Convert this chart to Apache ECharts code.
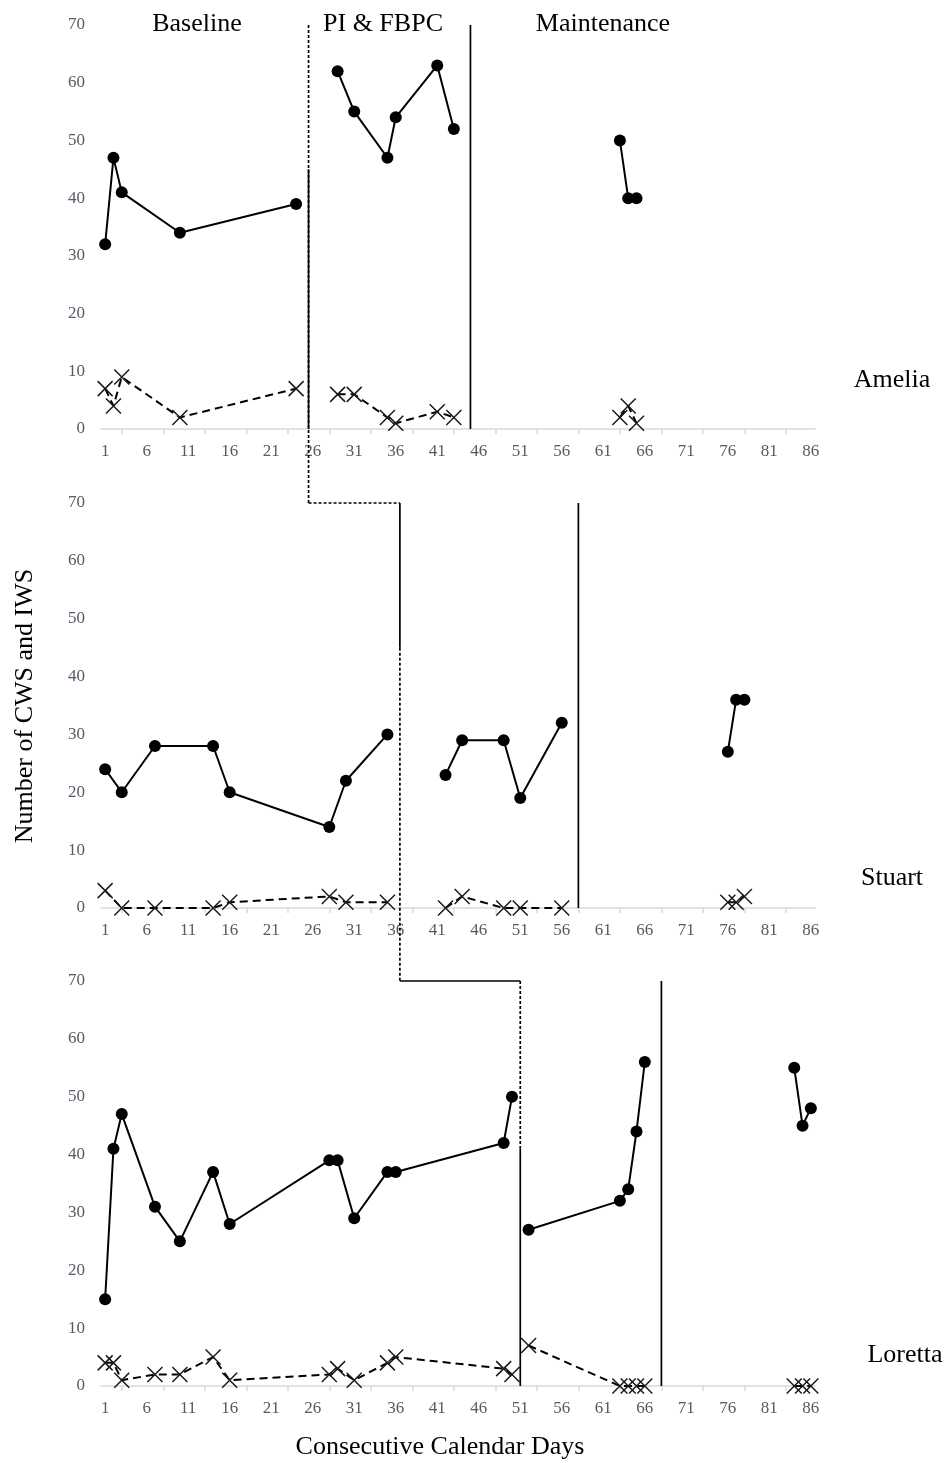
<!DOCTYPE html>
<html>
<head>
<meta charset="utf-8">
<script src="https://cdn.jsdelivr.net/npm/echarts@6/dist/echarts.min.js"></script>
<style>
html,body{margin:0;padding:0;background:#fff;}
#chart{width:944px;height:1463px;}
</style>
</head>
<body>
<div id="chart"></div>
<script>
// ---------- data ----------
const dayCategories = ['1','2','3','4','5','6','7','8','9','10','11','12','13','14','15','16','17','18','19','20',
  '21','22','23','24','25','26','27','28','29','30','31','32','33','34','35','36','37','38','39','40',
  '41','42','43','44','45','46','47','48','49','50','51','52','53','54','55','56','57','58','59','60',
  '61','62','63','64','65','66','67','68','69','70','71','72','73','74','75','76','77','78','79','80',
  '81','82','83','84','85','86'];
const participants = ['Amelia', 'Stuart', 'Loretta'];
const phaseTitles = ['Baseline', 'PI & FBPC', 'Maintenance'];

// Amelia
const ameliaBaselineDays = [1, 2, 3, 10, 24];
const ameliaBaselineCWS = [32, 47, 41, 34, 39];
const ameliaBaselineIWS = [7, 4, 9, 2, 7];
const ameliaInterventionDays = [29, 31, 35, 36, 41, 43];
const ameliaInterventionCWS = [62, 55, 47, 54, 63, 52];
const ameliaInterventionIWS = [6, 6, 2, 1, 3, 2];
const ameliaMaintenanceDays = [63, 64, 65];
const ameliaMaintenanceCWS = [50, 40, 40];
const ameliaMaintenanceIWS = [2, 4, 1];

// Stuart
const stuartBaselineDays = [1, 3, 7, 14, 16, 28, 30, 35];
const stuartBaselineCWS = [24, 20, 28, 28, 20, 14, 22, 30];
const stuartBaselineIWS = [3, 0, 0, 0, 1, 2, 1, 1];
const stuartInterventionDays = [42, 44, 49, 51, 56];
const stuartInterventionCWS = [23, 29, 29, 19, 32];
const stuartInterventionIWS = [0, 2, 0, 0, 0];
const stuartMaintenanceDays = [76, 77, 78];
const stuartMaintenanceCWS = [27, 36, 36];
const stuartMaintenanceIWS = [1, 1, 2];

// Loretta
const lorettaBaselineDays = [1, 2, 3, 7, 10, 14, 16, 28, 29, 31, 35, 36, 49, 50];
const lorettaBaselineCWS = [15, 41, 47, 31, 25, 37, 28, 39, 39, 29, 37, 37, 42, 50];
const lorettaBaselineIWS = [4, 4, 1, 2, 2, 5, 1, 2, 3, 1, 4, 5, 3, 2];
const lorettaInterventionDays = [52, 63, 64, 65, 66];
const lorettaInterventionCWS = [27, 32, 34, 44, 56];
const lorettaInterventionIWS = [7, 0, 0, 0, 0];
const lorettaMaintenanceDays = [84, 85, 86];
const lorettaMaintenanceCWS = [55, 45, 48];
const lorettaMaintenanceIWS = [0, 0, 0];

// phase-change lines (day positions)
const ameliaPhaseLines = [25.5, 45];
const stuartPhaseLines = [36.5, 58];
const lorettaPhaseLines = [51, 68];
// y value where solid/dashed parts of the staircase switch
const staircaseBreakValues = [45, 45, 41];

// ---------- assembly ----------
const panels = [
  {phases: [[ameliaBaselineDays, ameliaBaselineCWS, ameliaBaselineIWS],
            [ameliaInterventionDays, ameliaInterventionCWS, ameliaInterventionIWS],
            [ameliaMaintenanceDays, ameliaMaintenanceCWS, ameliaMaintenanceIWS]]},
  {phases: [[stuartBaselineDays, stuartBaselineCWS, stuartBaselineIWS],
            [stuartInterventionDays, stuartInterventionCWS, stuartInterventionIWS],
            [stuartMaintenanceDays, stuartMaintenanceCWS, stuartMaintenanceIWS]]},
  {phases: [[lorettaBaselineDays, lorettaBaselineCWS, lorettaBaselineIWS],
            [lorettaInterventionDays, lorettaInterventionCWS, lorettaInterventionIWS],
            [lorettaMaintenanceDays, lorettaMaintenanceCWS, lorettaMaintenanceIWS]]}
];

const serif = '"Liberation Serif", "Times New Roman", serif';
const gridTops = [25, 503, 981];
const gridHeights = [404, 405, 405];

const grid = [], xAxis = [], yAxis = [], series = [];
panels.forEach((p, i) => {
  grid.push({left: 101, width: 714, top: gridTops[i], height: gridHeights[i]});
  xAxis.push({
    type: 'category', gridIndex: i, data: dayCategories, boundaryGap: true,
    axisLine: {show: true, lineStyle: {color: '#d9d9d9', width: 1.5}},
    axisTick: {show: true, alignWithLabel: true, length: 5,
               interval: (idx) => idx % 5 === 2,
               lineStyle: {color: '#d9d9d9', width: 1.5}},
    axisLabel: {interval: 4, margin: 14, color: '#555a66', fontFamily: serif, fontSize: 17},
    splitLine: {show: false}
  });
  xAxis.push({type: 'value', gridIndex: i, min: 0.5, max: 86.5, show: false});
  yAxis.push({
    type: 'value', gridIndex: i, min: 0, max: 70, interval: 10,
    axisLine: {show: false}, axisTick: {show: false}, splitLine: {show: false},
    axisLabel: {margin: 16, color: '#555a66', fontFamily: serif, fontSize: 17}
  });
  p.phases.forEach(([days, cws, iws]) => {
    series.push({
      type: 'line', xAxisIndex: 2 * i + 1, yAxisIndex: i,
      data: days.map((d, k) => [d, iws[k]]),
      symbol: 'path://M0,0L10,10M10,0L0,10', symbolSize: 15,
      itemStyle: {color: 'rgba(0,0,0,0)', borderColor: '#1a1a1a', borderWidth: 1.5},
      lineStyle: {color: '#000', width: 2, type: [8, 5]},
      animation: false, silent: true, z: 2
    });
    series.push({
      type: 'line', xAxisIndex: 2 * i + 1, yAxisIndex: i,
      data: days.map((d, k) => [d, cws[k]]),
      symbol: 'circle', symbolSize: 12,
      itemStyle: {color: '#000'},
      lineStyle: {color: '#000', width: 2},
      animation: false, silent: true, z: 3
    });
  });
});

const chart = echarts.init(document.getElementById('chart'), null, {renderer: 'canvas'});
chart.setOption({animation: false, backgroundColor: '#fff', grid, xAxis, yAxis, series});

// ---------- annotations positioned through the chart's own scales ----------
function P(i, x, y) {
  return chart.convertToPixel({xAxisIndex: 2 * i + 1, yAxisIndex: i}, [x, y]);
}
function seg(a, b, dashed) {
  return {
    type: 'line', silent: true, z: 10,
    shape: {x1: a[0], y1: a[1], x2: b[0], y2: b[1]},
    style: {stroke: '#000', lineWidth: 1.7, lineDash: dashed ? [3, 2] : null}
  };
}
const g = [];
const a1 = ameliaPhaseLines[0], s1 = stuartPhaseLines[0], l1 = lorettaPhaseLines[0];
// Amelia
g.push(seg(P(0, a1, 0), P(0, a1, staircaseBreakValues[0]), false));
g.push(seg(P(0, a1, 70), P(1, a1, 70), true));
g.push(seg(P(0, ameliaPhaseLines[1], 70), P(0, ameliaPhaseLines[1], 0), false));
// Stuart
g.push(seg(P(1, a1, 70), P(1, s1, 70), true));
g.push(seg(P(1, s1, 70), P(1, s1, staircaseBreakValues[1]), false));
g.push(seg(P(1, s1, staircaseBreakValues[1]), P(2, s1, 70), true));
g.push(seg(P(1, stuartPhaseLines[1], 70), P(1, stuartPhaseLines[1], 0), false));
// Loretta
g.push(seg(P(2, s1, 70), P(2, l1, 70), false));
g.push(seg(P(2, l1, 70), P(2, l1, staircaseBreakValues[2]), true));
g.push(seg(P(2, l1, staircaseBreakValues[2]), P(2, l1, 0), false));
g.push(seg(P(2, lorettaPhaseLines[1], 70), P(2, lorettaPhaseLines[1], 0), false));

function txt(text, x, y, rot) {
  return {
    type: 'text', silent: true, z: 20, x: x, y: y, rotation: rot || 0,
    style: {text: text, fill: '#000', font: '26px ' + serif, align: 'center', verticalAlign: 'middle'}
  };
}
const titleX = [197, 383, 603];
phaseTitles.forEach((t, k) => g.push(txt(t, titleX[k], 24)));
const nameX = [892, 892, 905], nameY = [380, 878, 1355];
participants.forEach((n, k) => g.push(txt(n, nameX[k], nameY[k])));
g.push(txt('Number of CWS and IWS', 25, 706, Math.PI / 2));
g.push(txt('Consecutive Calendar Days', 440, 1447));

chart.setOption({graphic: g});
</script>
</body>
</html>
